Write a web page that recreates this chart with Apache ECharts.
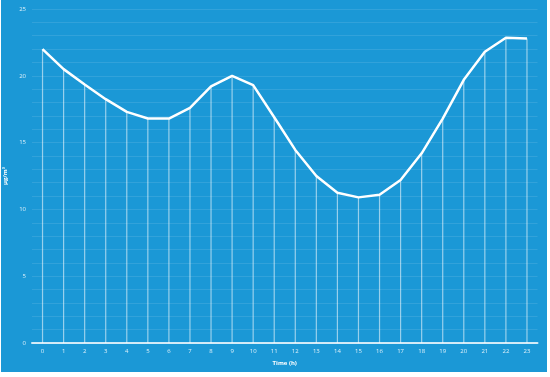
<!DOCTYPE html>
<html>
<head>
<meta charset="utf-8">
<script src="https://cdn.jsdelivr.net/npm/echarts@6/dist/echarts.min.js"></script>
<style>
  html, body { margin: 0; padding: 0; background: #ffffff; }
  #bg { position: absolute; left: 1px; top: 0; width: 546px; height: 372px; background: #1b98d6; }
  #main { position: absolute; left: 0; top: 0; width: 550px; height: 377px; }
</style>
</head>
<body>
<div id="bg"></div>
<div id="main"></div>
<script>
// heures et concentrations
const hours = ['0','1','2','3','4','5','6','7','8','9','10','11','12','13','14','15','16','17','18','19','20','21','22','23'];
const values = [22.0, 20.5, 19.35, 18.25, 17.3, 16.8, 16.8, 17.6, 19.2, 20.0, 19.3, 16.9,
                14.45, 12.5, 11.25, 10.9, 11.1, 12.2, 14.2, 16.8, 19.7, 21.8, 22.85, 22.8];
const yTicks = [0, 5, 10, 15, 20, 25];

var chartDom = document.getElementById('main');
var myChart = echarts.init(chartDom);

var labelFont = { color: 'rgba(255,255,255,0.85)', fontSize: 6, fontFamily: 'Open Sans' };

var option = {
    animation: false,
    grid: { left: 32, right: 12.5, top: 9, bottom: 34, containLabel: false, outerBoundsMode: 'none' },
    xAxis: {
        type: 'category',
        data: hours,
        boundaryGap: true,
        name: 'Time (h)',
        nameLocation: 'middle',
        nameGap: 17,
        nameTextStyle: { color: '#ffffff', fontSize: 6, fontWeight: 'bold', fontFamily: 'Open Sans' },
        axisLine: { lineStyle: { color: 'rgba(255,255,255,0.8)', width: 2 } },
        axisTick: { show: false },
        axisLabel: Object.assign({ margin: 5, interval: 0 }, labelFont),
        splitLine: { show: false }
    },
    yAxis: {
        type: 'value',
        min: 0,
        max: 25,
        interval: 1,
        name: 'μg/m³',
        nameLocation: 'middle',
        nameGap: 14,
        nameRotate: 90,
        nameTextStyle: { color: '#ffffff', fontSize: 6, fontWeight: 'bold', fontFamily: 'Open Sans' },
        axisLine: { show: false },
        axisTick: { show: false },
        axisLabel: Object.assign({
            margin: 6,
            formatter: function (v) { return yTicks.indexOf(v) >= 0 ? String(v) : ''; }
        }, labelFont),
        splitLine: { lineStyle: { color: 'rgba(255,255,255,0.1)', width: 1 } }
    },
    series: [
        // traits verticaux sous chaque point
        {
            type: 'bar',
            data: values,
            barWidth: 1.2,
            itemStyle: { color: 'rgba(255,255,255,0.55)' },
            silent: true
        },
        {
            type: 'line',
            data: values,
            symbol: 'none',
            lineStyle: { color: '#ffffff', width: 2.5 },
            z: 5
        }
    ]
};

myChart.setOption(option);
window.addEventListener('resize', () => myChart.resize());
</script>
</body>
</html>
